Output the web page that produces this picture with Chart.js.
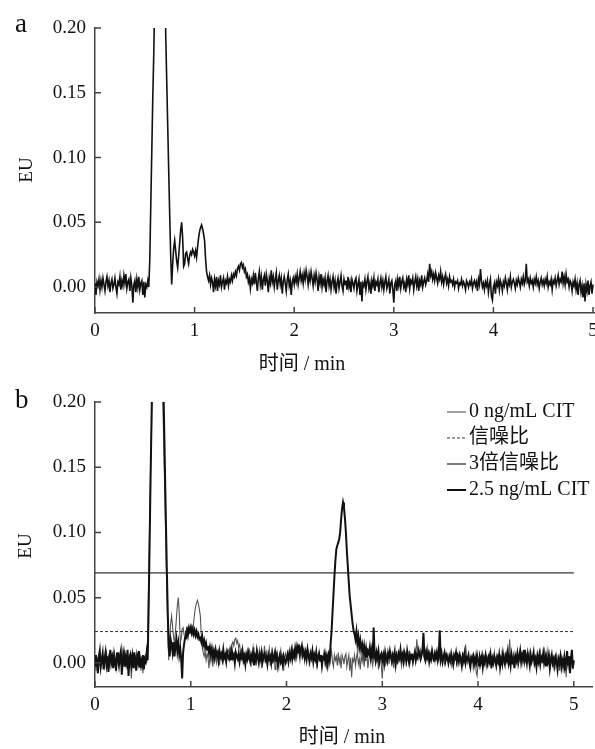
<!DOCTYPE html>
<html>
<head>
<meta charset="utf-8">
<script src="https://cdn.jsdelivr.net/npm/chart.js@4.4.1/dist/chart.umd.min.js"></script>
<style>
  html, body { margin: 0; padding: 0; background: #fff; overflow: hidden; }
  #wrap { position: relative; width: 595px; height: 749px; overflow: hidden; }
  canvas { position: absolute; left: 0; }
  #chartA { top: 0; }
  #chartB { top: 380px; }
</style>
</head>
<body>
<div id="wrap">
  <canvas id="chartA" width="620" height="380"></canvas>
  <canvas id="chartB" width="620" height="369"></canvas>
</div>
<script>
// sampling of the chromatograms: one value every 0.01 min, values in mEU
const timeStep = 0.01

// 0 ng/mL CIT (blank), 0.00 .. 5.00 min
const blank_mEU = [
  3, -6, 4, 1, 6, -2, 5, 0, 7, 2,
  -3, 4, 8, 1, 5, -4, 3, 6, -1, 2,
  7, 0, -5, 4, 2, 8, -2, 5, 1, 9,
  3, 10, -1, 4, 6, -3, 7, 1, -12, 2,
  5, -4, 6, 0, 8, -2, 3, 5, -6, 4,
  -8, 2, 0, 5, 0, 21, 63, 104, 146, 180,
  225, 320, 420, 500, 540, 550, 530, 480, 410, 330,
  260, 195, 160, 125, 90, 56, 24, 2, 18, 30,
  36, 28, 20, 15, 24, 34, 44, 50, 38, 16,
  18, 26, 27, 22, 18, 24, 27, 25, 29, 27,
  24, 28, 23, 31, 38, 43, 46, 48, 45, 41,
  36, 22, 12, 8, 5, 9, 2, 7, 4, -4,
  6, 1, 8, -3, 5, 2, 9, 0, 4, 7,
  -2, 5, 3, 8, 1, 6, 4, 9, 5, 10,
  8, 12, 9, 14, 16, 13, 18, 19, 15, 17,
  12, 14, 8, 10, 4, 7, -1, 6, 3, 9,
  2, 11, 4, -3, 7, 12, 2, 8, -2, 6,
  9, 1, 10, 5, -4, 7, 3, 13, 4, 8,
  0, 6, 11, -2, 5, 9, 2, 7, -5, 4,
  8, 3, -3, 6, 10, 1, 5, -6, 4, 7,
  2, 8, 4, 10, 2, 7, 12, 5, 9, 3,
  11, 6, 13, 8, 2, 10, 5, 12, 7, 1,
  9, 4, 11, 6, -3, 8, 3, 10, 0, 6,
  2, 7, -4, 5, 9, 1, 6, -2, 4, 8,
  0, 5, -5, 3, 7, -1, 4, 9, 1, -3,
  6, 2, 5, -2, 8, 0, 4, -4, 6, 3,
  -1, 5, 7, -3, 2, 6, -6, 4, -11, 3,
  1, 6, -2, 4, 8, -1, 3, -5, 5, 1,
  7, -3, 4, 2, 6, -4, 3, 7, 0, 5,
  -2, 4, 8, -1, 2, 6, -5, 3, 5, -2,
  -12, 2, 5, -3, 6, 1, 8, -1, 4, 7,
  0, 3, -4, 6, 2, 9, -1, 5, 3, 7,
  -2, 4, 8, 1, 6, -3, 5, 2, 9, 0,
  4, 7, 2, 5, 10, 4, 18, 9, 12, 6,
  10, 5, 11, 7, 3, 9, 6, 12, 4, 8,
  2, 7, 10, 3, 6, 1, 8, 4, 5, 2,
  6, 0, 4, 3, 5, -1, 3, 2, 6, 1,
  4, 2, -2, 5, 3, 0, 4, 2, 6, -1,
  3, 5, 1, 4, -3, 6, 2, 14, 5, 0,
  3, -2, 4, 1, 5, -4, 2, 6, -7, -10,
  0, 3, -5, 4, 1, 6, -2, 5, 2, -3,
  4, 1, 7, 3, -2, 5, 2, 8, 0, 4,
  6, 3, -1, 5, 2, 7, 4, 0, 6, 3,
  8, 2, 5, 18, 4, 6, 1, 7, 3, 5,
  0, 6, 3, 8, 2, 5, -1, 4, 7, 2,
  5, 1, 6, 3, 8, 0, 4, 2, 6, -2,
  5, 3, 7, 1, 5, 9, 2, 6, 4, 12,
  3, 8, 2, 10, 4, 6, 0, 5, 3, -3,
  4, 1, 6, -2, 3, -6, 2, 5, -4, 1,
  -8, 3, -11, 2, -3, 5, -6, 1, 4, -5,
  2
]

// 2.5 ng/mL CIT, 0.00 .. 5.00 min
const sample_mEU = [
  -2, 6, 1, -8, 4, 9, -3, 2, 7, -5,
  3, 8, -1, 5, -7, 2, 10, 0, 4, -4,
  6, 1, -6, 8, 3, -2, 5, 9, -9, 2,
  7, -3, 4, 0, 10, -10, 3, 6, -1, 5,
  -4, 8, 2, -6, 5, 1, 9, -3, 4, 0,
  6, -5, 3, 1, 8, 2, 40, 90, 140, 185,
  230, 330, 430, 510, 550, 560, 540, 490, 420, 340,
  270, 230, 190, 150, 110, 72, 38, 12, 5, 18,
  14, 8, 16, 5, 12, 18, 9, 15, 6, 11,
  3, -12, 8, 14, 19, 22, 25, 21, 26, 24,
  27, 23, 26, 22, 25, 21, 24, 20, 22, 18,
  19, 16, 20, 14, 17, 12, 15, 10, 13, 8,
  12, 7, 11, 5, 9, 4, 10, 6, 8, 2,
  9, 5, 7, 3, 10, 4, 6, 1, 8, 5,
  3, 7, 2, 9, 4, 6, 0, 8, 5, 3,
  7, 1, 6, 4, 9, 2, 5, -1, 6, 3,
  8, 4, 1, 6, 3, 7, -2, 5, 2, 9,
  4, 0, 6, 3, 8, 1, 5, 7, 2, 4,
  -1, 6, 3, 5, 0, 7, 2, 4, 8, 1,
  5, -2, 3, 6, 1, 4, -1, 5, 2, 0,
  3, 6, 1, 7, 4, 9, 3, 8, 5, 11,
  6, 12, 8, 14, 7, 10, 13, 6, 9, 4,
  8, 3, 10, 5, 2, 7, 4, 9, 1, 6,
  3, 8, 0, 5, 7, 2, 6, -2, 4, 3,
  7, 1, 5, -1, 6, 3, 14, 24, 38, 52,
  66, 78, 87, 90, 92, 95, 100, 110, 118, 123,
  119, 111, 100, 86, 74, 62, 51, 44, 37, 30,
  25, 22, 18, 24, 15, 20, 12, 17, 10, 14,
  8, 13, 6, 11, 4, 9, 7, 12, 5, 10,
  3, 27, 6, 2, 8, 4, 9, 1, 5, 7,
  2, 6, 0, 8, 4, 1, 7, 3, 9, 5,
  1, 6, 3, 8, -1, 5, 2, 7, 4, 10,
  3, 6, 1, 8, 5, 2, 9, 4, 0, 6,
  3, 7, 1, 5, 8, 2, 6, 4, 9, 7,
  3, 6, 10, 23, 5, 2, 8, 4, 7, 1,
  6, 3, 9, 5, 1, 7, 4, 8, 2, 6,
  25, 3, 7, 1, 5, 8, 2, 6, 4, 0,
  5, 2, 7, 3, -1, 6, 4, 8, 2, 5,
  1, 6, 3, -2, 5, 2, 7, 0, 4, 3,
  6, 1, -3, 4, 2, 5, -1, 3, 0, 6,
  2, -2, 4, 1, 5, -3, 3, 0, 6, 2,
  -1, 4, 1, 6, -4, 3, 0, 5, 2, -2,
  4, 1, 6, -3, 3, 0, 7, 2, -1, 5,
  2, 8, 0, 4, -2, 6, 1, 3, -4, 5,
  2, 7, 0, 4, 9, 1, 6, 3, 10, 2,
  5, 0, 7, 3, -2, 6, 1, 4, 8, 0,
  3, -3, 5, 1, 6, -1, 4, 2, 7, 0,
  4, -2, 3, 1, 5, -4, 2, 6, 0, 3,
  -2, 4, 1, -5, 3, 0, 5, -3, 2, -1,
  4, -6, 2, 9, -2, 5, -8, 3, 10, -4,
  2
]

// signal to noise levels (EU) and the time span they are drawn over
const snLevel = 0.024
const snLevel3 = 0.069
const levelSpan = [0, 5]

const xTicks = [0, 1, 2, 3, 4, 5]
const yTicks = [0, 0.05, 0.10, 0.15, 0.20]
const legendLabels = ['0 ng/mL CIT', '信噪比', '3倍信噪比', '2.5 ng/mL CIT']
const xTitle = '时间 / min'
const yTitle = 'EU'

const FONT = "'Liberation Serif', 'Noto Sans CJK SC', serif"
Chart.defaults.font.family = FONT
Chart.defaults.color = '#111'

const toPoints = (arr) => arr.map((v, i) => ({ x: +(i * timeStep).toFixed(2), y: v / 1000 }))
const levelPoints = (lvl) => levelSpan.map(t => ({ x: t, y: lvl }))

// tick marks pointing into the plot
const innerTicks = {
  id: 'innerTicks',
  afterDatasetsDraw(chart) {
    const { ctx, scales: { x, y } } = chart
    ctx.save()
    ctx.strokeStyle = '#444'
    ctx.lineWidth = 1.5
    ctx.beginPath()
    x.ticks.forEach(t => {
      const px = x.getPixelForValue(t.value)
      ctx.moveTo(px, x.top)
      ctx.lineTo(px, x.top - 6)
    })
    y.ticks.forEach(t => {
      const py = y.getPixelForValue(t.value)
      ctx.moveTo(y.right, py)
      ctx.lineTo(y.right + 6, py)
    })
    ctx.stroke()
    ctx.restore()
  }
}

// panel letter, axis titles and the legend
const panelDecor = {
  id: 'panelDecor',
  afterDraw(chart, args, o) {
    const ctx = chart.ctx
    ctx.save()
    ctx.fillStyle = '#111'
    ctx.font = '27px ' + FONT
    ctx.textAlign = 'left'
    ctx.textBaseline = 'alphabetic'
    ctx.fillText(o.letter, o.letterPos[0], o.letterPos[1])

    ctx.font = '20px ' + FONT
    ctx.textAlign = 'center'
    ctx.textBaseline = 'middle'
    ctx.fillText(xTitle, o.xTitlePos[0], o.xTitlePos[1])

    ctx.save()
    ctx.font = '19px ' + FONT
    ctx.translate(o.yTitlePos[0], o.yTitlePos[1])
    ctx.rotate(-Math.PI / 2)
    ctx.fillText(yTitle, 0, 0)
    ctx.restore()

    if (o.legend) {
      const [lx, ly, gap] = o.legend
      ctx.textAlign = 'left'
      chart.data.datasets.forEach((ds, i) => {
        const yy = ly + i * gap
        ctx.strokeStyle = ds.borderColor
        ctx.lineWidth = ds.borderWidth
        ctx.setLineDash(ds.borderDash || [])
        ctx.beginPath()
        ctx.moveTo(lx, yy)
        ctx.lineTo(lx + 19, yy)
        ctx.stroke()
        ctx.fillText(ds.label, lx + 22, yy)
      })
    }
    ctx.restore()
  }
}

function makeChart(id, cfg) {
  return new Chart(document.getElementById(id), {
    type: 'line',
    data: { datasets: cfg.datasets },
    options: {
      responsive: false,
      animation: false,
      devicePixelRatio: 1,
      layout: { padding: cfg.padding },
      elements: { point: { radius: 0 }, line: { tension: 0 } },
      plugins: {
        legend: { display: false },
        tooltip: { enabled: false },
        panelDecor: cfg.decor
      },
      scales: {
        x: {
          type: 'linear',
          min: 0,
          max: cfg.xMax,
          afterBuildTicks: s => { s.ticks = xTicks.map(v => ({ value: v })) },
          afterFit: s => { s.height = 30 },
          grid: { display: false, drawTicks: false },
          border: { color: '#444', width: 1.5 },
          ticks: { padding: 7, font: { size: 19 }, callback: v => String(v) }
        },
        y: {
          min: cfg.yMin,
          max: 0.2,
          afterBuildTicks: s => { s.ticks = yTicks.map(v => ({ value: v })) },
          afterFit: s => { s.width = 95 },
          grid: { display: false, drawTicks: false },
          border: { color: '#444', width: 1.5 },
          ticks: { padding: 9, font: { size: 19 }, callback: v => v.toFixed(2) }
        }
      }
    },
    plugins: [innerTicks, panelDecor]
  })
}

// a: blank
makeChart('chartA', {
  xMax: 5.03,
  yMin: -0.02,
  padding: { left: 0, top: 28, right: 24, bottom: 37 },
  datasets: [
    { label: legendLabels[0], data: toPoints(blank_mEU), borderColor: '#111', borderWidth: 1.6 }
  ],
  decor: { letter: 'a', letterPos: [15, 32], xTitlePos: [302, 365], yTitlePos: [27, 170] }
})

// b: blank, S/N levels and 2.5 ng/mL
makeChart('chartB', {
  xMax: 5.19,
  yMin: -0.0185,
  padding: { left: 0, top: 22, right: 28, bottom: 32 },
  datasets: [
    { label: legendLabels[0], data: toPoints(blank_mEU), borderColor: '#555', borderWidth: 1.1, order: 3 },
    { label: legendLabels[1], data: levelPoints(snLevel), borderColor: '#333', borderWidth: 1, borderDash: [3, 2], order: 2 },
    { label: legendLabels[2], data: levelPoints(snLevel3), borderColor: '#333', borderWidth: 1.3, order: 1 },
    { label: legendLabels[3], data: toPoints(sample_mEU), borderColor: '#111', borderWidth: 2, order: 0 }
  ],
  decor: { letter: 'b', letterPos: [15, 28], xTitlePos: [342, 358], yTitlePos: [26, 166], legend: [447, 32, 26] }
})
</script>
</body>
</html>
